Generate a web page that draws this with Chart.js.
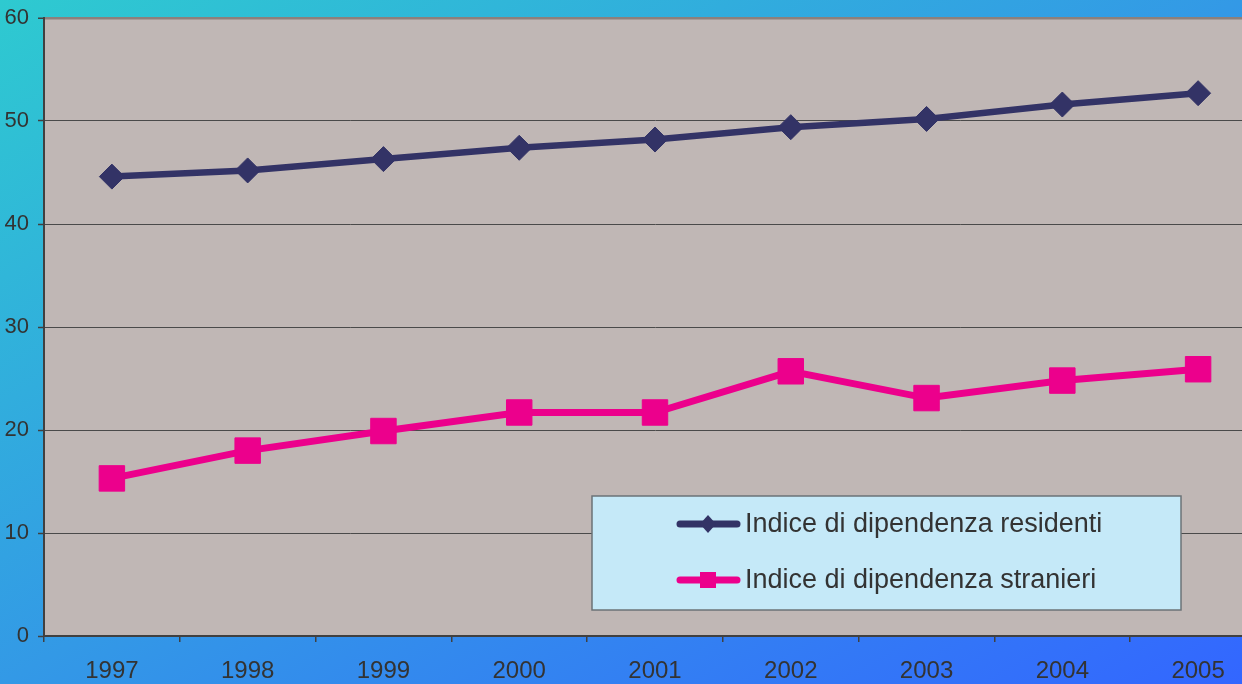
<!DOCTYPE html>
<html>
<head>
<meta charset="utf-8">
<script src="https://cdn.jsdelivr.net/npm/chart.js@4"></script>
<style>
  html, body { margin: 0; padding: 0; width: 1242px; height: 684px; overflow: hidden; }
  body { background: linear-gradient(to bottom right, #2ecad0 0%, #3399e6 50%, #3366ff 100%); position: relative; }
  #wrap { position: absolute; left: 0; top: 0; width: 1266px; height: 684px; }
</style>
</head>
<body>
<div id="wrap"><canvas id="c" width="1266" height="684"></canvas></div>
<script>
const categories = ['1997', '1998', '1999', '2000', '2001', '2002', '2003', '2004', '2005'];
const residenti = [44.6, 45.2, 46.3, 47.4, 48.2, 49.4, 50.2, 51.6, 52.7];
const stranieri = [15.3, 18.0, 19.9, 21.7, 21.7, 25.7, 23.1, 24.8, 25.9];
const seriesLabels = ['Indice di dipendenza residenti', 'Indice di dipendenza stranieri'];
const yTicks = [0, 10, 20, 30, 40, 50, 60];

const FONT = '"Liberation Sans", Arial, sans-serif';

const plotBg = {
  id: 'plotBg',
  beforeDraw(chart) {
    const { ctx, chartArea: a } = chart;
    ctx.save();
    ctx.fillStyle = '#c0b7b5';
    ctx.fillRect(a.left, a.top, a.right - a.left, a.bottom - a.top);
    ctx.restore();
  }
};

const boxLegend = {
  id: 'boxLegend',
  afterDraw(chart) {
    const ctx = chart.ctx;
    const x0 = 592, y0 = 496, x1 = 1181, y1 = 610;
    ctx.save();
    ctx.fillStyle = '#c5e9f8';
    ctx.fillRect(x0, y0, x1 - x0, y1 - y0);
    ctx.strokeStyle = '#6b7377';
    ctx.lineWidth = 1.5;
    ctx.strokeRect(x0, y0, x1 - x0, y1 - y0);
    const rows = [524, 580];
    chart.data.datasets.forEach((ds, i) => {
      const y = rows[i];
      ctx.strokeStyle = ds.borderColor;
      ctx.lineWidth = 7;
      ctx.lineCap = 'round';
      ctx.beginPath();
      ctx.moveTo(680, y);
      ctx.lineTo(737, y);
      ctx.stroke();
      ctx.fillStyle = ds.backgroundColor;
      const cx = 708;
      if (ds.pointStyle === 'rectRot') {
        ctx.beginPath();
        ctx.moveTo(cx - 8, y); ctx.lineTo(cx, y - 9); ctx.lineTo(cx + 8, y); ctx.lineTo(cx, y + 9);
        ctx.closePath(); ctx.fill();
      } else {
        ctx.fillRect(cx - 8, y - 8, 16, 16);
      }
      ctx.fillStyle = '#333';
      ctx.font = '27px ' + FONT;
      ctx.textBaseline = 'middle';
      ctx.textAlign = 'left';
      ctx.fillText(ds.label, 745, y + 1);
    });
    ctx.restore();
  }
};

new Chart(document.getElementById('c'), {
  type: 'line',
  data: {
    labels: categories,
    datasets: [
      {
        label: seriesLabels[0],
        data: residenti,
        borderColor: '#333366',
        backgroundColor: '#333366',
        borderWidth: 6.5,
        pointStyle: 'rectRot',
        pointRadius: 12.5,
        pointBorderWidth: 1,
        pointBorderColor: '#333366',
        pointBackgroundColor: '#333366',
        tension: 0
      },
      {
        label: seriesLabels[1],
        data: stranieri,
        borderColor: '#ec008c',
        backgroundColor: '#ec008c',
        borderWidth: 7,
        pointStyle: 'rect',
        pointRadius: 18,
        pointBorderWidth: 1,
        pointBorderColor: '#ec008c',
        pointBackgroundColor: '#ec008c',
        tension: 0
      }
    ]
  },
  options: {
    responsive: false,
    devicePixelRatio: 1,
    animation: false,
    layout: { autoPadding: false, padding: { top: 18, left: 0, right: 0, bottom: 0 } },
    plugins: { legend: { display: false }, tooltip: { enabled: false } },
    scales: {
      x: {
        type: 'category',
        offset: true,
        grid: { display: true, offset: true, drawOnChartArea: false, drawTicks: true, tickLength: 6, color: '#404040', lineWidth: 1.5 },
        border: { display: true, color: '#404040', width: 2 },
        ticks: { color: '#333', font: { family: FONT, size: 24 }, padding: 15, maxRotation: 0, autoSkip: false },
        afterFit(s) { s.height = 48; s.paddingLeft = 0; s.paddingRight = 0; }
      },
      y: {
        min: 0, max: 60,
        afterBuildTicks(s) { s.ticks = yTicks.map(v => ({ value: v })); },
        grid: {
          drawTicks: true, tickLength: 6,
          color: ctx => ctx.tick && ctx.tick.value === 60 ? '#8c807c' : '#4a4a4a',
          lineWidth: ctx => ctx.tick && ctx.tick.value === 60 ? 2.5 : 1,
          tickColor: '#404040', tickWidth: 1.5
        },
        border: { display: true, color: '#404040', width: 2 },
        ticks: { color: '#333', font: { family: FONT, size: 22 }, padding: 9 },
        afterFit(s) { s.width = 44; s.paddingTop = 0; s.paddingBottom = 0; }
      }
    }
  },
  plugins: [plotBg, boxLegend]
});
</script>
</body>
</html>
